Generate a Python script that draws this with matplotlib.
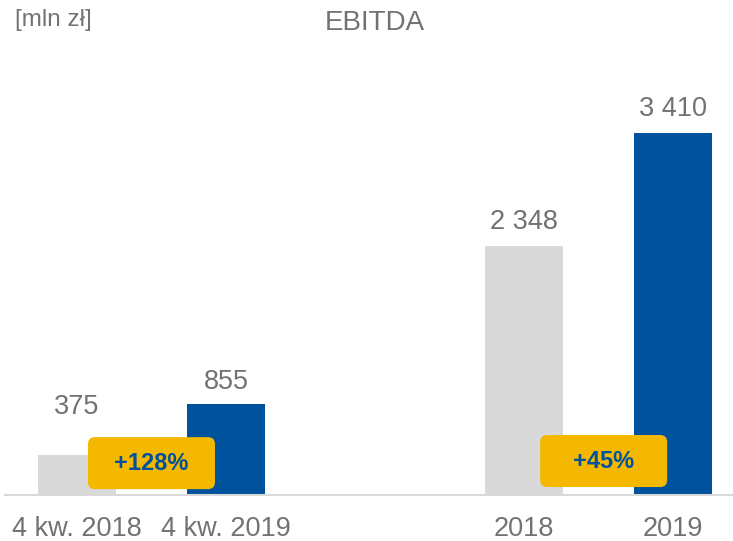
import matplotlib
matplotlib.use("Agg")
import matplotlib.pyplot as plt
from matplotlib.patches import FancyBboxPatch

plt.rcParams['font.family'] = ['Liberation Sans', 'DejaVu Sans']

# dane
categories = ['4 kw. 2018', '4 kw. 2019', '2018', '2019']
values = [375, 855, 2348, 3410]
value_labels = ['375', '855', '2 348', '3 410']
badges = ['+128%', '+45%']

# wygląd
xpos = [0, 1, 3, 4]
colors = ['#D9D9D9', '#00529C', '#D9D9D9', '#00529C']
label_offsets = [25, 7, 8, 8]   # pt nad słupkiem
badge_x = [0.5, 3.535]
badge_y = [300, 320]
grey_txt = '#767171'
yellow = '#F5B800'

fig = plt.figure(figsize=(7.33, 5.41), dpi=100)
ax = fig.add_axes([5 / 733, 46 / 541, 728 / 733, 495 / 541])
ax.set_xlim(-0.483, 4.403)
ax.set_ylim(0, 4663)

ax.bar(xpos, values, width=0.523, color=colors, zorder=2)

for x, v, lab, off in zip(xpos, values, value_labels, label_offsets):
    ax.annotate(lab, (x, v), xytext=(0, off), textcoords='offset points',
                ha='center', va='bottom', fontsize=19.5, color=grey_txt)

# plakietki z procentami
fig.canvas.draw()
p0 = ax.transData.transform((0, 0))
p1 = ax.transData.transform((1, 1))
aspect = (p1[0] - p0[0]) / (p1[1] - p0[1])
bw = 127 / (p1[0] - p0[0])
bh = 52 / (p1[1] - p0[1])
r = 7 / (p1[0] - p0[0])
for bx, by, txt in zip(badge_x, badge_y, badges):
    box = FancyBboxPatch((bx - bw / 2, by - bh / 2), bw, bh,
                         boxstyle=f"round,pad=0,rounding_size={r}",
                         mutation_aspect=aspect, fc=yellow, ec='none', zorder=3)
    ax.add_patch(box)
    ax.text(bx, by, txt, ha='center', va='center', fontsize=17,
            fontweight='bold', color='#00529C', zorder=4)

ax.set_xticks(xpos)
ax.set_xticklabels(categories, fontsize=19.5, color=grey_txt)
ax.tick_params(axis='x', length=0, pad=15)
ax.set_yticks([])
for s in ['top', 'left', 'right']:
    ax.spines[s].set_visible(False)
ax.spines['bottom'].set_color('#D9D9D9')
ax.spines['bottom'].set_linewidth(1.5)

fig.text(375 / 733, 1 - 23 / 541, 'EBITDA', ha='center', va='center',
         fontsize=20, color=grey_txt)
fig.text(15 / 733, 1 - 20 / 541, '[mln zł]', ha='left', va='center',
         fontsize=17.5, color=grey_txt)

fig.savefig('out.png', dpi=100)
